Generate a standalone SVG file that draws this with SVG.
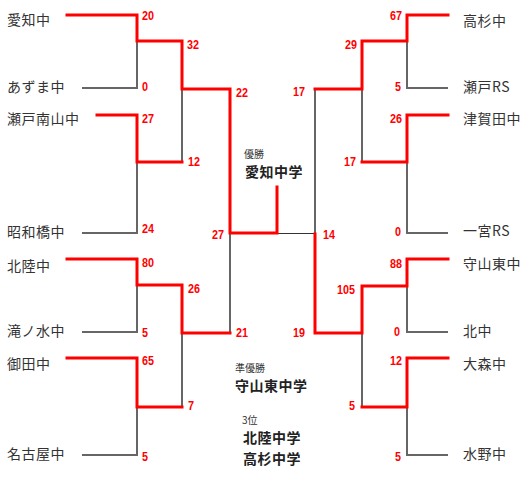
<svg xmlns="http://www.w3.org/2000/svg" width="527" height="490" viewBox="0 0 527 490">
<style>
.g{fill:none;stroke:#666;stroke-width:2}
.r{fill:none;stroke:#ff0000;stroke-width:3;stroke-linejoin:miter;stroke-linecap:square}
.t{fill:none;stroke:#333;stroke-width:1}
.n{font-family:"Noto Sans CJK JP","Liberation Sans",sans-serif;font-size:14px;letter-spacing:0.5px;fill:#333}
.s{font-family:"Liberation Sans",sans-serif;font-size:13px;font-weight:bold;fill:#ff0000}
.e{text-anchor:end}
.h{font-family:"Noto Sans CJK JP",sans-serif;font-size:10px;fill:#333}
.w{font-family:"Noto Sans CJK JP",sans-serif;font-size:14px;font-weight:bold;fill:#222;letter-spacing:0.5px}
</style>
<rect width="527" height="490" fill="#fff"/>
<g id="connectors">
<polyline class="g" points="82,88 137,88 137,41"/>
<polyline class="g" points="82,233 137,233 137,162"/>
<polyline class="g" points="82,332 137,332 137,285"/>
<polyline class="g" points="82,455 137,455 137,407"/>
<line class="g" x1="182" y1="89" x2="182" y2="162"/>
<line class="g" x1="182" y1="333" x2="182" y2="407"/>
<line class="g" x1="230" y1="233" x2="230" y2="333"/>
<polyline class="g" points="448,88 407,88 407,41"/>
<polyline class="g" points="448,233 407,233 407,162"/>
<polyline class="g" points="448,332 407,332 407,286"/>
<polyline class="g" points="448,455 407,455 407,407"/>
<line class="g" x1="362" y1="89" x2="362" y2="162"/>
<line class="g" x1="362" y1="333" x2="362" y2="407"/>
<line class="g" x1="315" y1="89" x2="315" y2="233"/>
<line class="t" x1="277" y1="233.5" x2="315" y2="233.5"/>
<polyline class="r" points="67,15 137,15 137,41 182,41 182,89 230,89 230,233 277,233 277,187"/>
<polyline class="r" points="97,115 137,115 137,162 182,162"/>
<polyline class="r" points="67,259 137,259 137,285 182,285 182,333 230,333"/>
<polyline class="r" points="67,358 137,358 137,407 182,407"/>
<polyline class="r" points="448,15 407,15 407,41 362,41 362,89 315,89"/>
<polyline class="r" points="448,115 407,115 407,162 362,162"/>
<polyline class="r" points="448,259 407,259 407,286 362,286 362,333 315,333 315,234"/>
<polyline class="r" points="448,358 407,358 407,407 362,407"/>
</g>
<g id="team-aichi"><text class="n" x="7" y="25">愛知中</text></g>
<g id="team-azuma"><text class="n" x="7" y="92">あずま中</text></g>
<g id="team-setominamiyama"><text class="n" x="7" y="124">瀬戸南山中</text></g>
<g id="team-showabashi"><text class="n" x="7" y="237">昭和橋中</text></g>
<g id="team-hokuryo"><text class="n" x="7" y="271">北陸中</text></g>
<g id="team-takinomizu"><text class="n" x="7" y="336">滝ノ水中</text></g>
<g id="team-onda"><text class="n" x="7" y="369">御田中</text></g>
<g id="team-nagoya"><text class="n" x="7" y="459">名古屋中</text></g>
<g id="team-takasugi"><text class="n" x="463" y="26">高杉中</text></g>
<g id="team-setors"><text class="n" x="463" y="92">瀬戸RS</text></g>
<g id="team-tsugata"><text class="n" x="463" y="124">津賀田中</text></g>
<g id="team-ichinomiyars"><text class="n" x="463" y="236">一宮RS</text></g>
<g id="team-moriyamahigashi"><text class="n" x="463" y="269">守山東中</text></g>
<g id="team-kita"><text class="n" x="463" y="336">北中</text></g>
<g id="team-omori"><text class="n" x="463" y="369">大森中</text></g>
<g id="team-mizuno"><text class="n" x="463" y="459">水野中</text></g>
<g id="scores">
<text class="s" transform="translate(142,20) scale(0.83,1)">20</text>
<text class="s" transform="translate(142,91) scale(0.83,1)">0</text>
<text class="s" transform="translate(142,123) scale(0.83,1)">27</text>
<text class="s" transform="translate(142,233) scale(0.83,1)">24</text>
<text class="s" transform="translate(142,267) scale(0.83,1)">80</text>
<text class="s" transform="translate(142,337) scale(0.83,1)">5</text>
<text class="s" transform="translate(142,365) scale(0.83,1)">65</text>
<text class="s" transform="translate(142,461) scale(0.83,1)">5</text>
<text class="s" transform="translate(187,49) scale(0.83,1)">32</text>
<text class="s" transform="translate(188,166) scale(0.83,1)">12</text>
<text class="s" transform="translate(188,293) scale(0.83,1)">26</text>
<text class="s" transform="translate(188,410) scale(0.83,1)">7</text>
<text class="s" transform="translate(236,97) scale(0.83,1)">22</text>
<text class="s" transform="translate(236,337) scale(0.83,1)">21</text>
<text class="s e" transform="translate(224,239) scale(0.83,1)">27</text>
<text class="s" transform="translate(323,239) scale(0.83,1)">14</text>
<text class="s e" transform="translate(305,96) scale(0.83,1)">17</text>
<text class="s e" transform="translate(305,337) scale(0.83,1)">19</text>
<text class="s e" transform="translate(357,49) scale(0.83,1)">29</text>
<text class="s e" transform="translate(356,166) scale(0.83,1)">17</text>
<text class="s e" transform="translate(355,294) scale(0.83,1)">105</text>
<text class="s e" transform="translate(355,410) scale(0.83,1)">5</text>
<text class="s e" transform="translate(402,20) scale(0.83,1)">67</text>
<text class="s e" transform="translate(401,91) scale(0.83,1)">5</text>
<text class="s e" transform="translate(402,123) scale(0.83,1)">26</text>
<text class="s e" transform="translate(401,236) scale(0.83,1)">0</text>
<text class="s e" transform="translate(402,268) scale(0.83,1)">88</text>
<text class="s e" transform="translate(400,336) scale(0.83,1)">0</text>
<text class="s e" transform="translate(402,365) scale(0.83,1)">12</text>
<text class="s e" transform="translate(401,461) scale(0.83,1)">5</text>
</g>
<g id="winner">
<text class="h" x="244" y="158">優勝</text>
<text class="w" x="245" y="177">愛知中学</text>
</g>
<g id="runner-up">
<text class="h" x="235" y="372">準優勝</text>
<text class="w" x="235" y="391">守山東中学</text>
</g>
<g id="third">
<text class="h" x="242" y="424">3位</text>
<text class="w" x="243" y="443">北陸中学</text>
<text class="w" x="243" y="464">高杉中学</text>
</g>
</svg>
